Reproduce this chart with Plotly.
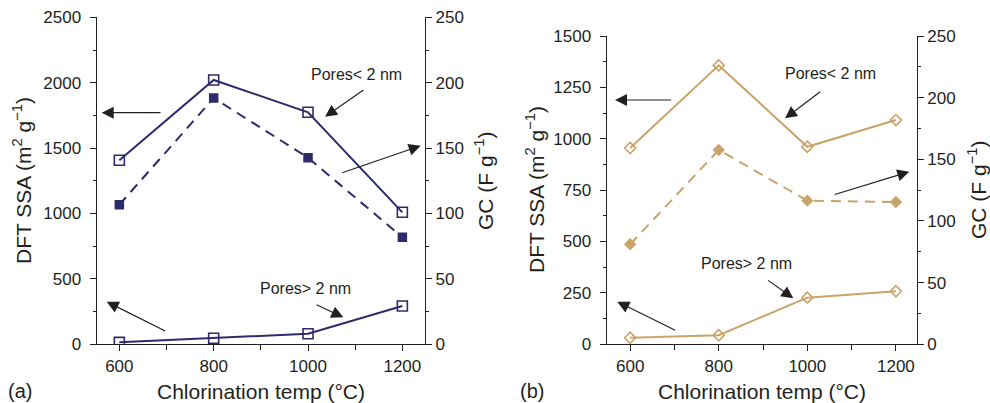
import plotly.graph_objects as go

# ---------------- data ----------------
temps = [600, 800, 1000, 1200]

# panel (a)
a_ssa_micro = [1407, 2021, 1774, 1009]   # Pores < 2 nm, DFT SSA
a_ssa_meso = [15, 46, 81, 293]           # Pores > 2 nm, DFT SSA
a_gc = [106.7, 188.3, 142.7, 81.8]       # GC (F/g)

# panel (b)
b_ssa_micro = [955, 1357, 961, 1091]
b_ssa_meso = [32, 44, 227, 258]
b_gc = [81.1, 157.6, 116.5, 115.4]

W, H = 990, 403
NAVY = "#2E2B6D"
TAN = "#C9A36A"
TXT = "#231F20"
FONT = "Liberation Sans, Arial, Helvetica, sans-serif"

fig = go.Figure()

# panel (a)
fig.add_trace(go.Scatter(x=temps, y=a_ssa_micro, xaxis="x", yaxis="y", mode="lines+markers",
                         line=dict(color=NAVY, width=2),
                         marker=dict(symbol="square-open", size=10, color=NAVY, line=dict(width=1.6, color=NAVY)),
                         showlegend=False))
fig.add_trace(go.Scatter(x=temps, y=a_ssa_meso, xaxis="x", yaxis="y", mode="lines+markers",
                         line=dict(color=NAVY, width=2),
                         marker=dict(symbol="square-open", size=10, color=NAVY, line=dict(width=1.6, color=NAVY)),
                         showlegend=False))
fig.add_trace(go.Scatter(x=temps, y=a_gc, xaxis="x", yaxis="y2", mode="lines+markers",
                         line=dict(color=NAVY, width=2, dash="10px,7px"),
                         marker=dict(symbol="square", size=9.5, color=NAVY),
                         showlegend=False))

# panel (b)
fig.add_trace(go.Scatter(x=temps, y=b_ssa_micro, xaxis="x2", yaxis="y3", mode="lines+markers",
                         line=dict(color=TAN, width=2),
                         marker=dict(symbol="diamond-open", size=8.5, color=TAN, line=dict(width=1.6, color=TAN)),
                         showlegend=False))
fig.add_trace(go.Scatter(x=temps, y=b_ssa_meso, xaxis="x2", yaxis="y3", mode="lines+markers",
                         line=dict(color=TAN, width=2),
                         marker=dict(symbol="diamond-open", size=8.5, color=TAN, line=dict(width=1.6, color=TAN)),
                         showlegend=False))
fig.add_trace(go.Scatter(x=temps, y=b_gc, xaxis="x2", yaxis="y4", mode="lines+markers",
                         line=dict(color=TAN, width=2, dash="10px,7px"),
                         marker=dict(symbol="diamond", size=9.5, color=TAN),
                         showlegend=False))


def px_x(p):
    return p / W


def px_y(p):
    return 1 - p / H


tickfont = dict(family=FONT, size=17, color=TXT)

common_axis = dict(showgrid=False, zeroline=False, showline=True, linecolor=TXT, linewidth=1.3,
                   ticks="outside", ticklen=6, tickwidth=1.3, tickcolor=TXT, tickfont=tickfont,
                   automargin=False)

aL, aR, aT, aB = 96.7, 425.0, 17.3, 344.3
bL, bR, bT, bB = 606.7, 916.7, 36.0, 344.3

fig.update_layout(
    width=W, height=H,
    margin=dict(l=0, r=0, t=0, b=0, pad=0),
    paper_bgcolor="white", plot_bgcolor="white",
    font=dict(family=FONT, color=TXT),
    xaxis=dict(domain=[px_x(aL), px_x(aR)], range=[552, 1248], tickvals=[600, 800, 1000, 1200],
               minor=dict(tickvals=[700, 900, 1100], ticks="outside", ticklen=5, tickcolor=TXT, tickwidth=1.3),
               anchor="y", **common_axis),
    yaxis=dict(domain=[px_y(aB), px_y(aT)], range=[0, 2500], tickvals=[0, 500, 1000, 1500, 2000, 2500],
               minor=dict(tickvals=[250, 750, 1250, 1750, 2250], ticks="outside", ticklen=3, tickcolor=TXT, tickwidth=1.3),
               anchor="x", ticklabelstandoff=5, **common_axis),
    yaxis2=dict(domain=[px_y(aB), px_y(aT)], range=[0, 250], tickvals=[0, 50, 100, 150, 200, 250],
                minor=dict(tickvals=[25, 75, 125, 175, 225], ticks="outside", ticklen=3, tickcolor=TXT, tickwidth=1.3),
                anchor="x", overlaying="y", side="right", **common_axis),
    xaxis2=dict(domain=[px_x(bL), px_x(bR)], range=[547, 1247], tickvals=[600, 800, 1000, 1200],
                minor=dict(tickvals=[700, 900, 1100], ticks="outside", ticklen=5, tickcolor=TXT, tickwidth=1.3),
                anchor="y3", **common_axis),
    yaxis3=dict(domain=[px_y(bB), px_y(bT)], range=[0, 1500], tickvals=[0, 250, 500, 750, 1000, 1250, 1500],
                minor=dict(tickvals=[125, 375, 625, 875, 1125, 1375], ticks="outside", ticklen=3, tickcolor=TXT, tickwidth=1.3),
                anchor="x2", ticklabelstandoff=5, **common_axis),
    yaxis4=dict(domain=[px_y(bB), px_y(bT)], range=[0, 250], tickvals=[0, 50, 100, 150, 200, 250],
                minor=dict(tickvals=[25, 75, 125, 175, 225], ticks="outside", ticklen=3, tickcolor=TXT, tickwidth=1.3),
                anchor="x2", overlaying="y3", side="right", **common_axis),
)

# arrows: (head_x, head_y, tail_dx, tail_dy) in pixels
arrows = [
    (101.7, 112.7, 60.3, 0.0),
    (325.0, 116.7, 40.0, -27.7),
    (420.7, 145.7, -80.0, 27.6),
    (343.3, 317.3, -28.3, -13.3),
    (106.7, 301.7, 60.0, 30.0),
    (615.0, 100.0, 57.7, 0.0),
    (785.0, 118.3, 36.7, -27.6),
    (909.3, 171.7, -76.0, 23.3),
    (793.3, 298.3, -26.6, -19.0),
    (617.3, 301.7, 59.4, 29.3),
]
annots = []
for hx, hy, dx, dy in arrows:
    annots.append(dict(x=px_x(hx), y=px_y(hy), xref="paper", yref="paper", ax=dx, ay=dy,
                       axref="pixel", ayref="pixel", showarrow=True, arrowhead=2, arrowsize=2.0,
                       arrowwidth=1.2, arrowcolor=TXT, text=""))

labels = [
    ("Pores< 2 nm", 356.7, 75.0, 16, 0),
    ("Pores> 2 nm", 305.0, 288.3, 16, 0),
    ("Pores< 2 nm", 830.0, 73.3, 16, 0),
    ("Pores> 2 nm", 746.7, 263.3, 16, 0),
    ("(a)", 20.0, 391.0, 20, 0),
    ("(b)", 532.0, 391.0, 20, 0),
    ("Chlorination temp (°C)", 261.0, 391.0, 21, 0),
    ("Chlorination temp (°C)", 762.0, 391.0, 21, 0),
    ("DFT SSA (m<sup>2</sup> g<sup>−1</sup>)", 22.0, 181.0, 21, -90),
    ("GC (F g<sup>−1</sup>)", 484.0, 181.0, 21, -90),
    ("DFT SSA (m<sup>2</sup> g<sup>−1</sup>)", 535.0, 190.0, 21, -90),
    ("GC (F g<sup>−1</sup>)", 977.0, 190.0, 21, -90),
]
for t, x, y, s, ang in labels:
    annots.append(dict(text=t, x=px_x(x), y=px_y(y), xref="paper", yref="paper", showarrow=False,
                       textangle=ang, xanchor="center", yanchor="middle",
                       font=dict(family=FONT, size=s, color=TXT)))

fig.update_layout(annotations=annots)

fig.write_html("out.html", config={"displayModeBar": False},
               post_script="document.body.style.margin='0px';document.body.style.overflow='hidden';")
